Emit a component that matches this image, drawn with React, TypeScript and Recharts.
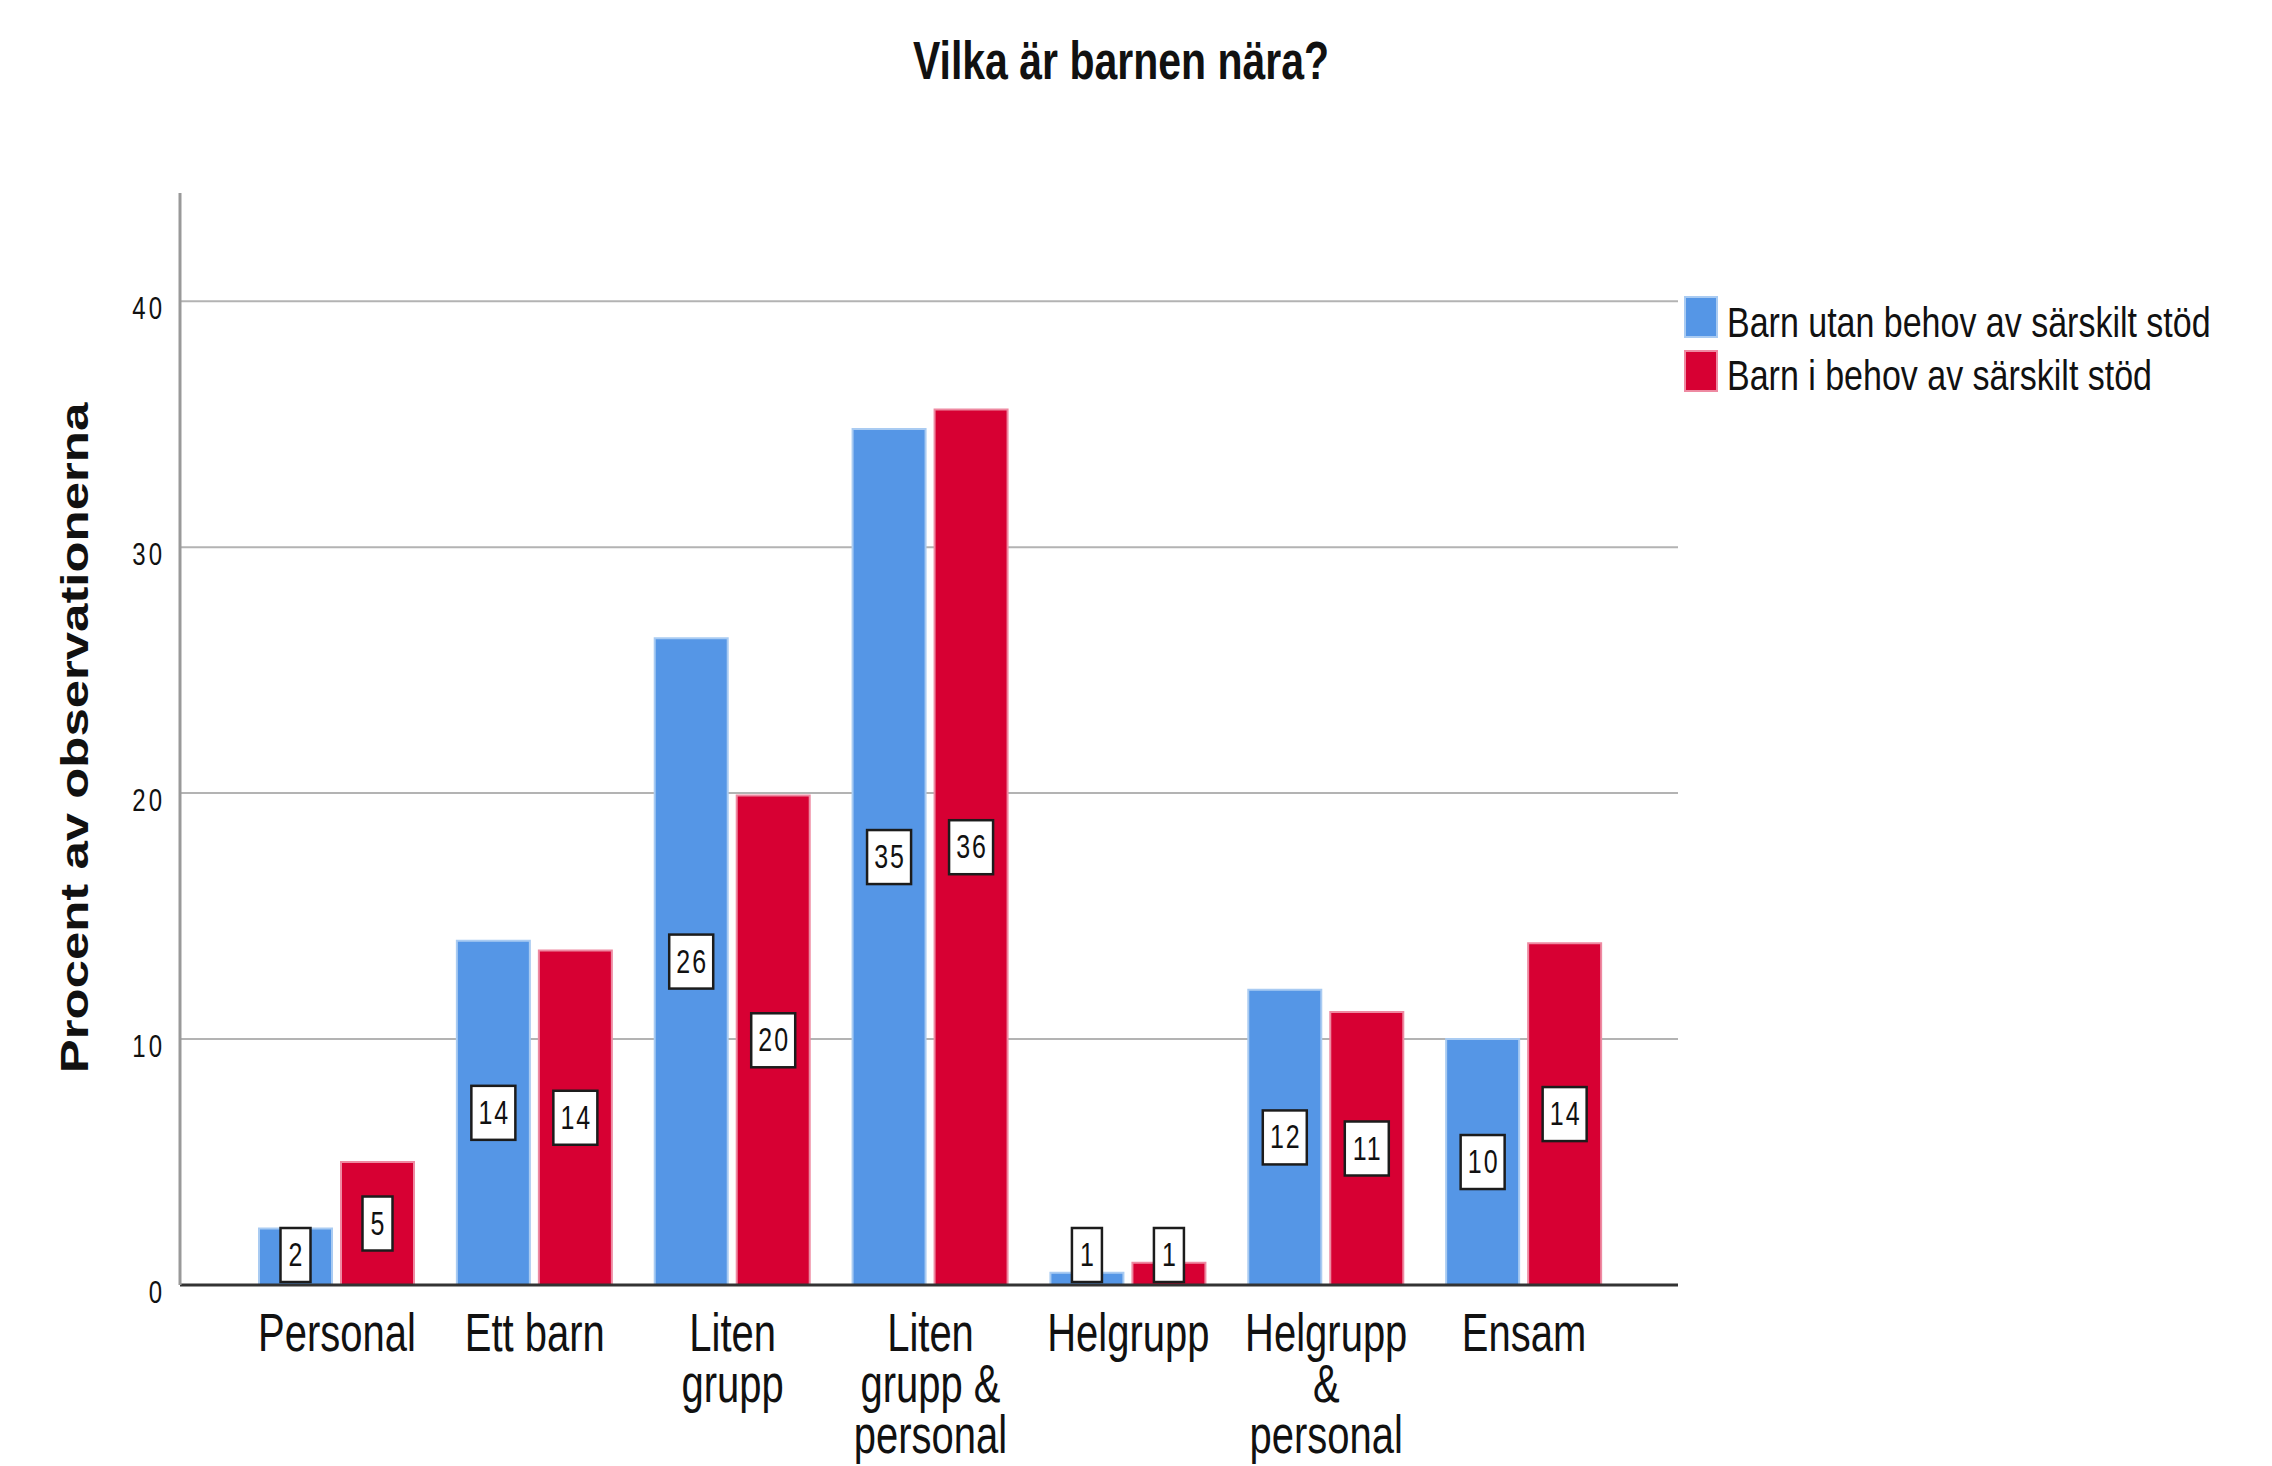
import { Bar, BarChart, CartesianGrid, LabelList, Legend, XAxis, YAxis } from 'recharts'

const W = 2272
const H = 1466
const FONT = '"Liberation Sans", Arial, sans-serif'
const STRETCH = 1.32

const categories = [
  'Personal',
  'Ett barn',
  'Liten\ngrupp',
  'Liten\ngrupp &\npersonal',
  'Helgrupp',
  'Helgrupp\n&\npersonal',
  'Ensam',
]
const utanStod = [2.3, 14.0, 26.3, 34.8, 0.5, 12.0, 10.0]
const iBehovStod = [5.0, 13.6, 19.9, 35.6, 0.9, 11.1, 13.9]
const yTicks = [0, 10, 20, 30, 40]
const gridValues = [10, 20, 30, 40]

const seriesNames = ['Barn utan behov av särskilt stöd', 'Barn i behov av särskilt stöd']
const BLUE = '#5596e6'
const RED = '#d70033'

const data = categories.map((c, i) => ({ name: c, utan: utanStod[i], behov: iBehovStod[i] }))

const YTick = ({ x, y, payload }: any) => (
  <g transform={`translate(${x},${y + 18}) scale(1,${STRETCH})`}>
    <text textAnchor="end" fontSize={24} letterSpacing={3} fill="#111" fontFamily={FONT}>
      {payload.value}
    </text>
  </g>
)

const XTick = ({ x, y, payload }: any) => {
  const lines = String(payload.value).split('\n')
  return (
    <g transform={`translate(${x},${y + 66}) scale(1,${STRETCH})`}>
      {lines.map((l, i) => (
        <text key={i} y={(i * 51) / STRETCH} textAnchor="middle" fontSize={40} fill="#111" fontFamily={FONT}>
          {l}
        </text>
      ))}
    </g>
  )
}

const ValueLabel = (props: any) => {
  const vb = props.viewBox || props
  const { x, y, width, height } = vb
  const txt = String(Math.round(Number(props.value)))
  const bw = txt.length > 1 ? 44 : 30
  const bh = 54
  const cx = x + width / 2
  const cy = Math.min(y + height / 2, y + height - 30)
  return (
    <g>
      <rect x={cx - bw / 2} y={cy - bh / 2} width={bw} height={bh} fill="#fff" stroke="#1c1c1c" strokeWidth={2.5} />
      <g transform={`translate(${cx + 1},${cy + 11}) scale(1,${STRETCH})`}>
        <text textAnchor="middle" fontSize={25} letterSpacing={2} fill="#111" fontFamily={FONT}>
          {txt}
        </text>
      </g>
    </g>
  )
}

const LegendBox = () => (
  <svg width={590} height={110} style={{ display: 'block' }}>
    {[BLUE, RED].map((c, i) => (
      <g key={i}>
        <rect x={6} y={4 + i * 54} width={32} height={40} fill={c} stroke={i === 0 ? '#a9cbf2' : '#ee8aa2'} strokeWidth={2} />
        <g transform={`translate(48,${44 + i * 53}) scale(1,1.26)`}>
          <text fontSize={34} fill="#111" fontFamily={FONT}>
            {seriesNames[i]}
          </text>
        </g>
      </g>
    ))}
  </svg>
)

export default function App() {
  return (
    <div style={{ position: 'absolute', left: 0, top: 0, width: W, height: H, background: '#fff' }}>
      <BarChart
        width={W}
        height={H}
        data={data}
        margin={{ top: 193, right: 594, bottom: 180, left: 179 }}
        barGap={9}
      >
        <CartesianGrid vertical={false} horizontalValues={gridValues} stroke="#b3b3b3" strokeWidth={2} />
        <XAxis
          dataKey="name"
          height={1}
          tickSize={0}
          tickMargin={0}
          interval={0}
          padding={{ left: 58, right: 55 }}
          axisLine={{ stroke: '#333', strokeWidth: 3 }}
          tickLine={false}
          tick={<XTick />}
        />
        <YAxis
          width={1}
          domain={[0, 44.4]}
          ticks={yTicks}
          tickSize={0}
          tickMargin={15}
          axisLine={{ stroke: '#999', strokeWidth: 3 }}
          tickLine={false}
          tick={<YTick />}
        />
        <Legend
          layout="vertical"
          align="center"
          verticalAlign="middle"
          wrapperStyle={{ top: 293, left: 1679, width: 590, height: 110 }}
          content={() => <LegendBox />}
        />
        <Bar dataKey="utan" name={seriesNames[0]} fill={BLUE} stroke="#a9cbf2" strokeWidth={2} barSize={73} isAnimationActive={false}>
          <LabelList dataKey="utan" content={<ValueLabel />} />
        </Bar>
        <Bar dataKey="behov" name={seriesNames[1]} fill={RED} stroke="#ee8aa2" strokeWidth={2} barSize={73} isAnimationActive={false}>
          <LabelList dataKey="behov" content={<ValueLabel />} />
        </Bar>
      </BarChart>
      <svg width={W} height={H} style={{ position: 'absolute', left: 0, top: 0, pointerEvents: 'none' }}>
        <g transform={`translate(1121,79) scale(1,1.33)`}>
          <text textAnchor="middle" fontWeight="bold" fontSize={41} fill="#111" fontFamily={FONT}>
            Vilka är barnen nära?
          </text>
        </g>
        <g transform="translate(88,738) rotate(-90) scale(1.34,1)">
          <text textAnchor="middle" fontWeight="bold" fontSize={38} fill="#111" fontFamily={FONT}>
            Procent av observationerna
          </text>
        </g>
      </svg>
    </div>
  )
}
